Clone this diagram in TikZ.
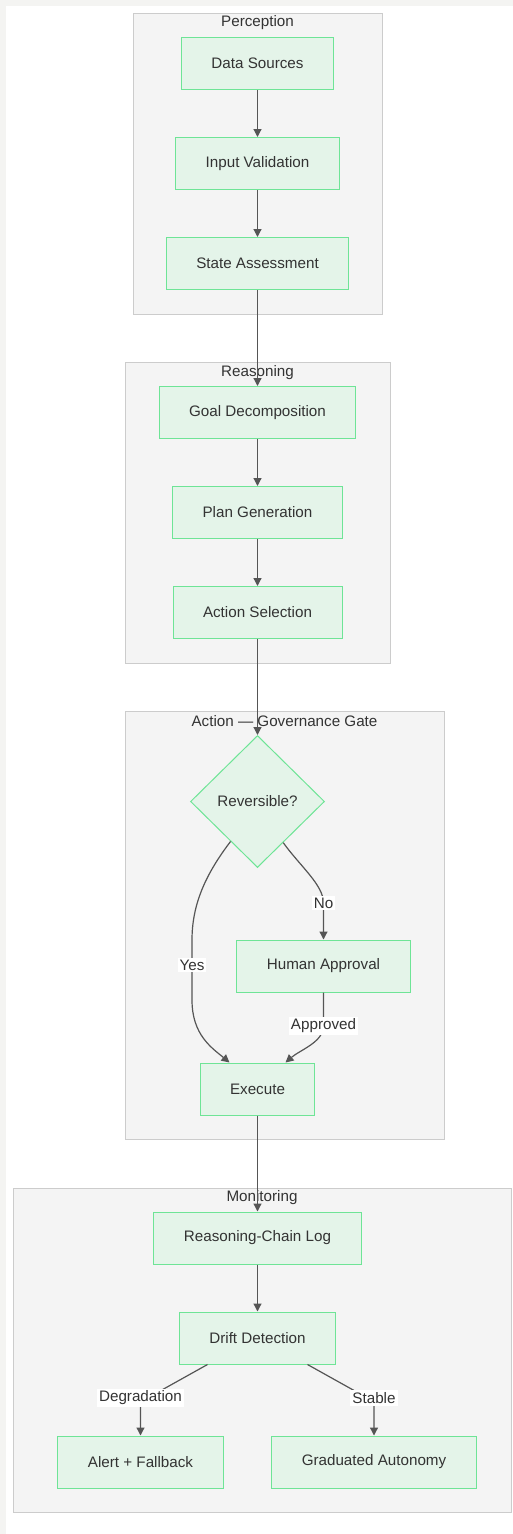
\documentclass[tikz,border=0pt]{standalone}
\usepackage{fontspec}
\setmainfont{Liberation Sans}
\usetikzlibrary{arrows.meta,positioning,shapes.geometric}
\definecolor{nodefill}{RGB}{228,244,233}
\definecolor{nodeline}{RGB}{110,228,150}
\definecolor{grpfill}{RGB}{244,244,244}
\definecolor{grpline}{RGB}{204,204,204}
\definecolor{edgecol}{RGB}{85,85,85}
\definecolor{txtcol}{RGB}{51,51,51}
\definecolor{pagegray}{RGB}{244,244,242}

\begin{document}
\begin{tikzpicture}[x=1pt,y=-1pt,node distance=47pt,font=\fontsize{15.2}{18}\selectfont,text=txtcol,
	main/.style={rectangle,fill=nodefill,draw=nodeline,line width=1pt,minimum height=52pt,inner xsep=30pt},
	dec/.style={diamond,fill=nodefill,draw=nodeline,line width=1pt,minimum width=134pt,minimum height=132pt,inner sep=0pt},
	grp/.style={fill=grpfill,draw=grpline,line width=1pt},
	grptitle/.style={inner sep=0pt},
	flow/.style={draw=edgecol,line width=1.2pt,-{Triangle[length=8pt,width=8pt]}},
	lbl/.style={fill=white,inner sep=2pt}]
				\fill[white] (0,0) rectangle (513,1534);
				\fill[pagegray] (0,0) rectangle (513,5.5);
				\fill[pagegray] (0,0) rectangle (5.5,1534);
				\draw[grp] (133,13) rectangle (382,314);
				\draw[grp] (125,362) rectangle (390,663);
				\draw[grp] (125,711) rectangle (444,1139);
				\draw[grp] (13,1188) rectangle (511,1512);
				\node[grptitle] (tper) at (257.5,23) {Perception};
				\node[grptitle] (trea) at (257.5,373) {Reasoning};
				\node[grptitle] (tact) at (284.5,721) {Action --- Governance Gate};
				\node[grptitle] (tmon) at (262,1198) {Monitoring};
				\node[main] (ds) at (257.5,63.5) {Data Sources};
				\node[main] (iv) [below=of ds] {Input Validation};
				\node[main] (sa) [below=of iv] {State Assessment};
				\node[main] (gd) [below=96pt of sa] {Goal Decomposition};
				\node[main] (pg) [below=of gd] {Plan Generation};
				\node[main] (as) [below=of pg] {Action Selection};
				\node[dec] (rev) [below=96pt of as] {Reversible?};
				\node[main] (ha) at (323.5,966) {Human Approval};
				\node[main] (ex) at (257.5,1089) {Execute};
				\node[main] (rcl) [below=96pt of ex] {Reasoning-Chain Log};
				\node[main] (dd) [below=of rcl] {Drift Detection};
				\node[main] (af) at (140.5,1462) {Alert + Fallback};
				\node[main] (gau) at (374,1462) {Graduated Autonomy};
				\draw[flow] (ds) -- (iv);
				\draw[flow] (iv) -- (sa);
				\draw[flow] (sa) -- (gd);
				\draw[flow] (gd) -- (pg);
				\draw[flow] (pg) -- (as);
				\draw[flow] (as) -- (rev);
				\draw[flow] (rev.236) .. controls (205,875) and (192,905) .. (192,940) -- (192,965) node[lbl] {Yes} -- (192,1000) .. controls (192,1035) and (212,1048) .. ([xshift=-28pt]ex.north);
				\draw[flow] (rev.302) .. controls (300,866) and (323.5,885) .. (323.5,903) node[lbl] {No} -- (ha);
				\draw[flow] (ha) -- (323.5,1026) node[lbl] {Approved} .. controls (323.5,1042) and (300,1050) .. ([xshift=28pt]ex.north);
				\draw[flow] (ex) -- (rcl);
				\draw[flow] (rcl) -- (dd);
				\draw[flow] ([xshift=-50pt]dd.south) -- (160,1391) -- (140.5,1398) node[lbl] {Degradation} -- (af);
				\draw[flow] ([xshift=50pt]dd.south) -- (355,1391) -- (374,1398) node[lbl] {Stable} -- (gau);
			\end{tikzpicture}
\end{document}
